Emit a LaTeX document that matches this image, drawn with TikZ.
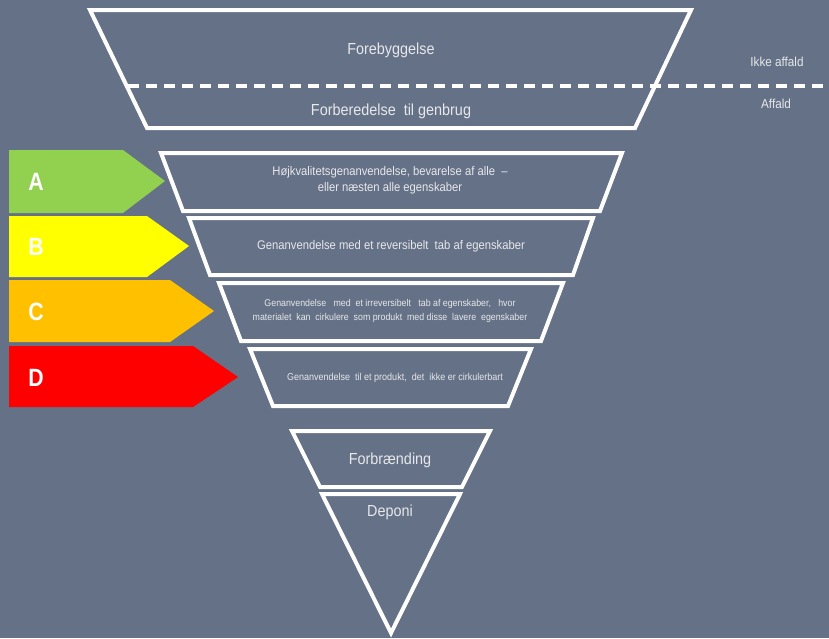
\documentclass[tikz,border=0pt]{standalone}
\usepackage{fontspec}
\setmainfont{Liberation Sans}[FakeStretch=0.9]
\newfontfamily\tagfont{Liberation Sans}[FakeStretch=0.85]
\definecolor{bg}{HTML}{657186}
\definecolor{txt}{HTML}{E6E8EB}
\definecolor{cA}{HTML}{92D050}
\definecolor{cB}{HTML}{FFFF00}
\definecolor{cC}{HTML}{FFC000}
\definecolor{cD}{HTML}{FF0000}
\tikzset{
  tier/.style={draw=white, line width=4pt, line join=miter},
  lbl/.style={text=txt, align=center, inner sep=0pt},
  tag/.style={text=white, font=\tagfont\bfseries\fontsize{25}{27}\selectfont, inner sep=0pt}
}
\begin{document}
\begin{tikzpicture}[x=1pt,y=-1pt]
\fill[bg] (0,0) rectangle (829,638);
\useasboundingbox (0,0) rectangle (829,638);
% energy-label arrows
\fill[cA] (9,150) -- (123,150) -- (165,181) -- (123,213) -- (9,213) -- cycle;
\fill[cB] (9,216) -- (147,216) -- (189,246) -- (147,277) -- (9,277) -- cycle;
\fill[cC] (9,280) -- (170,280) -- (214,311) -- (170,342) -- (9,342) -- cycle;
\fill[cD] (9,346) -- (193,346) -- (238,377) -- (193,407) -- (9,407) -- cycle;
\node[tag] (la) at (36,182) {A};
\node[tag] (lb) at (36,247) {B};
\node[tag] (lc) at (36,312) {C};
\node[tag] (ld) at (36,378) {D};
% top trapezoid
\draw[tier] (90,10) -- (691,10) -- (635,128) -- (147,128) -- cycle;
\draw[white, line width=3.5pt, dash pattern=on 11pt off 7pt] (128,86) -- (829,86);
\node[lbl, font=\fontsize{16}{18}\selectfont] (t1) at (391,50) {Forebyggelse};
\node[lbl, font=\fontsize{16}{18}\selectfont] (t2) at (391,111) {Forberedelse\ \ til genbrug};
\node[lbl, font=\fontsize{13}{15}\selectfont] (ik) at (777,62) {Ikke affald};
\node[lbl, font=\fontsize{13}{15}\selectfont] (af) at (776,104) {Affald};
% rows A-D
\draw[tier] (161,153) -- (622,153) -- (600,211) -- (183,211) -- cycle;
\node[lbl, font=\fontsize{12.5}{16}\selectfont] (ta) at (390,180) {Højkvalitetsgenanvendelse, bevarelse af alle \ --\\eller næsten alle egenskaber};
\draw[tier] (189,218) -- (593,218) -- (573,275) -- (210,275) -- cycle;
\node[lbl, font=\fontsize{12.5}{15}\selectfont] (tb) at (391,246) {Genanvendelse med et reversibelt\ \ tab af egenskaber};
\draw[tier] (219,283) -- (563,283) -- (541,341) -- (241,341) -- cycle;
\node[lbl, font=\fontsize{9.8}{14}\selectfont] (tc) at (390,311) {Genanvendelse\ \ \ med\ \ et irreversibelt\ \ \ tab af egenskaber,\ \ \ hvor\\materialet\ \ kan\ \ cirkulere\ \ som produkt\ \ med disse\ \ lavere\ \ egenskaber};
\draw[tier] (250,349) -- (531,349) -- (508,406) -- (273,406) -- cycle;
\node[lbl, font=\fontsize{10}{12}\selectfont] (td) at (395,378) {Genanvendelse\ \ til et produkt,\ \ det\ \ ikke\ er cirkulerbart};
% bottom
\draw[tier] (292,431) -- (490,431) -- (462,487) -- (320,487) -- cycle;
\node[lbl, font=\fontsize{16}{18}\selectfont] (tf) at (390,460) {Forbrænding};
\draw[tier] (322,494) -- (460,494) -- (391,633) -- cycle;
\node[lbl, font=\fontsize{16}{18}\selectfont] (tdp) at (390,512) {Deponi};
\end{tikzpicture}
\end{document}
